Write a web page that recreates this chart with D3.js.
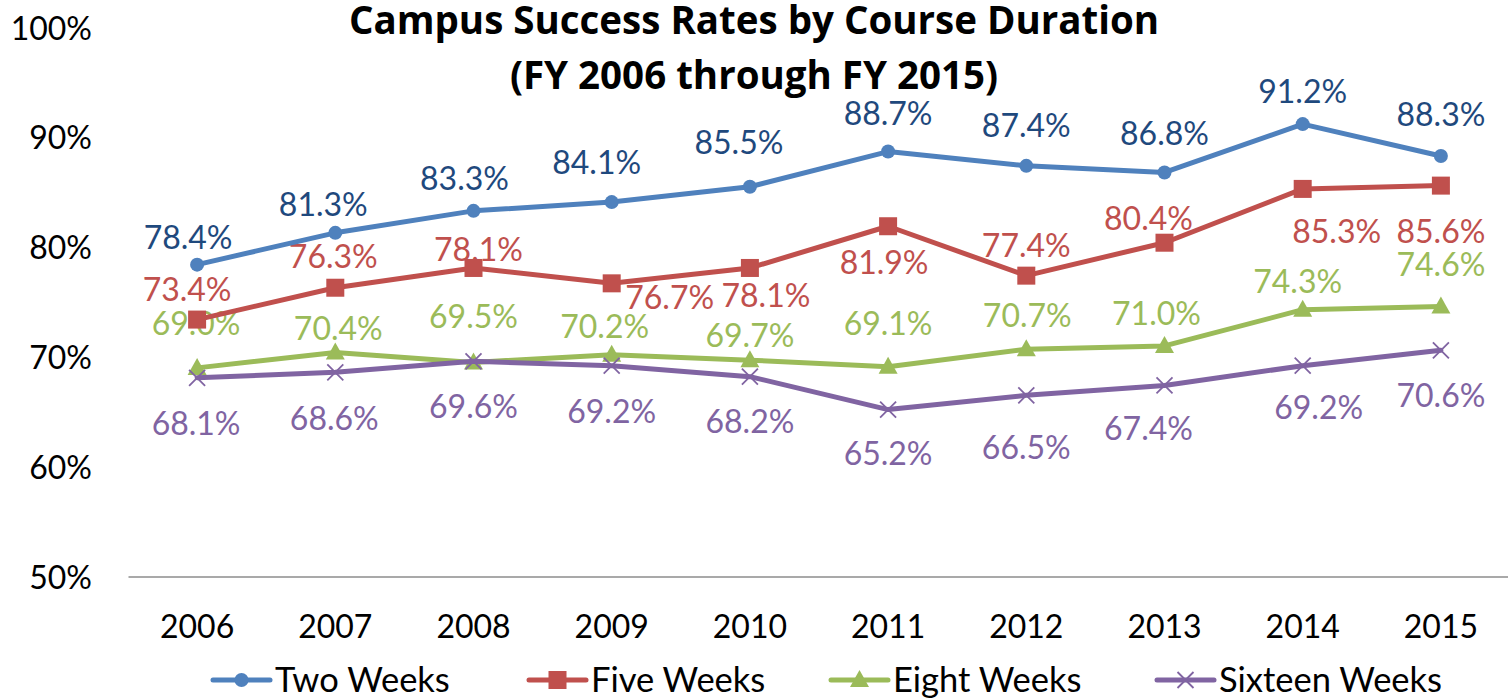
<!DOCTYPE html>
<html>
<head>
<meta charset="utf-8">
<script src="https://cdn.jsdelivr.net/npm/d3@7"></script>
<style>
  html, body { margin: 0; padding: 0; background: #fff; }
  svg { display: block; }
</style>
</head>
<body>
<svg id="chart" width="1508" height="700"></svg>
<script>
// ---------- data ----------
const years = ["2006","2007","2008","2009","2010","2011","2012","2013","2014","2015"];
const twoWeeks = [78.4, 81.3, 83.3, 84.1, 85.5, 88.7, 87.4, 86.8, 91.2, 88.3];
const fiveWeeks = [73.4, 76.3, 78.1, 76.7, 78.1, 81.9, 77.4, 80.4, 85.3, 85.6];
const eightWeeks = [69.0, 70.4, 69.5, 70.2, 69.7, 69.1, 70.7, 71.0, 74.3, 74.6];
const sixteenWeeks = [68.1, 68.6, 69.6, 69.2, 68.2, 65.2, 66.5, 67.4, 69.2, 70.6];
const seriesNames = ["Two Weeks", "Five Weeks", "Eight Weeks", "Sixteen Weeks"];
const yTicks = [50, 60, 70, 80, 90, 100];
const titleLines = ["Campus Success Rates by Course Duration", "(FY 2006 through FY 2015)"];

// ---------- layout / style ----------
const FONT = "Lato, 'Open Sans', sans-serif";
const TITLE_FONT = "'Open Sans', Lato, sans-serif";
const lineColors = ["#4F81BD", "#C0504D", "#9BBB59", "#8064A2"];
const labelColors = ["#1F497D", "#C0504D", "#9BBB59", "#8064A2"];
const markerTypes = ["circle", "square", "triangle", "x"];
// manual data-label offsets (px) from each point, as placed in the original
const labelOffsets = [
  [[-9,-27],[-12,-28],[-9,-32],[-15,-40],[-11,-44],[0,-38],[0,-40],[0,-39],[0,-33],[0,-41]],
  [[-10,-30],[-2,-31],[5,-18],[58,14],[16,28],[-4,36],[0,-30],[-16,-24],[34,43],[0,46]],
  [[-1,-44],[3,-24],[0,-46],[-7,-28],[0,-25],[0,-43],[1,-34],[-8,-32],[-5,-28],[0,-42]],
  [[-1,46],[-1,46],[0,45],[0,46],[0,45],[0,44],[0,52],[-16,43],[16,42],[0,45]]
];
const legendX = [213, 529, 831, 1157];

const allSeries = [twoWeeks, fiveWeeks, eightWeeks, sixteenWeeks];
const svg = d3.select("#chart");

const x = d3.scaleBand().domain(years).range([128, 1510]).paddingInner(0).paddingOuter(0);
const cx = d => x(d) + x.bandwidth() / 2;
const y = d3.scaleLinear().domain([50, 100]).range([576.5, 27.5]);

// title
svg.append("g").selectAll("text").data(titleLines).join("text")
  .attr("x", 754).attr("y", (d, i) => 34 + i * 55)
  .attr("text-anchor", "middle")
  .style("font-family", TITLE_FONT)
  .style("font-size", "38.5px").style("font-weight", 700).attr("fill", "#000")
  .text(d => d);

// y axis labels (no line)
const yAxis = d3.axisLeft(y).tickValues(yTicks).tickSize(0).tickPadding(0)
  .tickFormat(d => d + "%");
const gy = svg.append("g").attr("transform", "translate(92,0)").call(yAxis);
gy.select(".domain").remove();
gy.selectAll("text").style("font-size", "32px").style("font-family", FONT)
  .attr("fill", "#000").attr("dy", "0.36em");

// x axis
const xAxis = d3.axisBottom(x).tickSize(0).tickPadding(0);
const gx = svg.append("g").attr("transform", "translate(0,576.5)").call(xAxis);
gx.select(".domain").attr("stroke", "#8C8C8C").attr("stroke-width", 1.6);
gx.selectAll("text").style("font-size", "32px").style("font-family", FONT)
  .attr("fill", "#000").attr("dy", "0").attr("y", 61);

// marker drawing helper
function drawMarker(g, type, color) {
  if (type === "circle") {
    g.append("circle").attr("r", 7).attr("fill", color);
  } else if (type === "square") {
    g.append("rect").attr("x", -9).attr("y", -9).attr("width", 18).attr("height", 18).attr("fill", color);
  } else if (type === "triangle") {
    g.append("path").attr("d", "M0,-10 L9.5,7 L-9.5,7 Z").attr("fill", color);
  } else {
    g.append("path").attr("d", "M-8,-8 L8,8 M-8,8 L8,-8").attr("stroke", color)
      .attr("stroke-width", 1.8).attr("fill", "none");
  }
}

// data labels (drawn below the marks, as in the original)
const labelLayer = svg.append("g");
allSeries.forEach((vals, si) => {
  labelLayer.append("g").selectAll("text").data(vals).join("text")
    .attr("x", (d, i) => cx(years[i]) + labelOffsets[si][i][0])
    .attr("y", (d, i) => y(d) + labelOffsets[si][i][1] + 11.5)
    .attr("text-anchor", "middle")
    .style("font-family", FONT).style("font-size", "32px")
    .attr("fill", labelColors[si])
    .text(d => d.toFixed(1) + "%");
});

// lines and markers
const line = d3.line().x((d, i) => cx(years[i])).y(d => y(d));
allSeries.forEach((vals, si) => {
  const g = svg.append("g");
  g.append("path").datum(vals).attr("d", line)
    .attr("fill", "none").attr("stroke", lineColors[si])
    .attr("stroke-width", 5).attr("stroke-linejoin", "round").attr("stroke-linecap", "round");
  vals.forEach((v, i) => {
    const mg = g.append("g").attr("transform", `translate(${cx(years[i])},${y(v)})`);
    drawMarker(mg, markerTypes[si], lineColors[si]);
  });
});

// legend
const legend = svg.append("g").attr("transform", "translate(0,680)");
seriesNames.forEach((name, si) => {
  const lg = legend.append("g").attr("transform", `translate(${legendX[si]},0)`);
  lg.append("line").attr("x1", 0).attr("x2", 57).attr("y1", 0).attr("y2", 0)
    .attr("stroke", lineColors[si]).attr("stroke-width", 5).attr("stroke-linecap", "round");
  const mg = lg.append("g").attr("transform", "translate(28.5,0)");
  drawMarker(mg, markerTypes[si], lineColors[si]);
  lg.append("text").attr("x", 62).attr("y", 12)
    .style("font-family", FONT).style("font-size", "34.5px").attr("fill", "#000").text(name);
});
</script>
</body>
</html>
